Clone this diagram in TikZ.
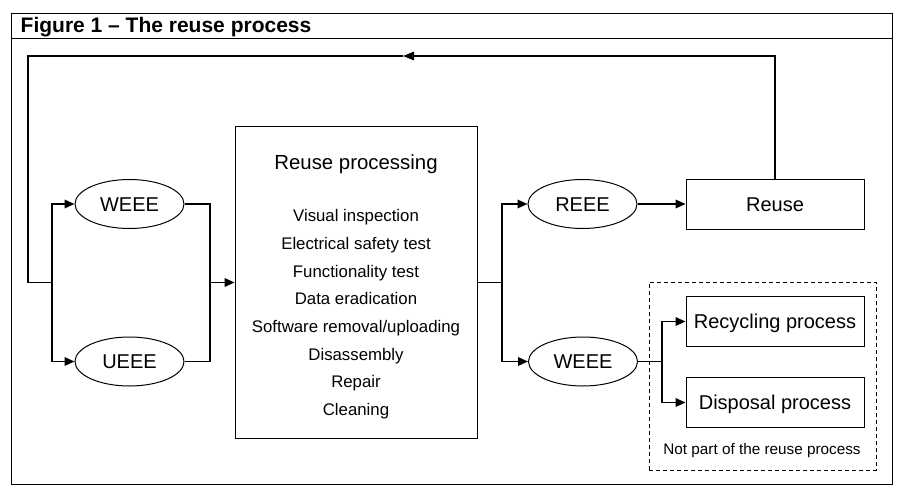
\documentclass[tikz,border=0pt]{standalone}
\usepackage{fontspec}
\setmainfont{Liberation Sans}
\usetikzlibrary{arrows.meta,shapes.geometric}
\begin{document}
\begin{tikzpicture}[x=1pt,y=-1pt,
  every node/.style={inner sep=0pt},
  lbl/.style={font=\fontsize{20}{24}\selectfont, text height=14.3pt, text depth=0pt},
  oval/.style={ellipse, draw, line width=1pt, minimum width=109pt, minimum height=49pt, lbl},
  sbox/.style={rectangle, draw, line width=0.9pt, minimum width=178pt, minimum height=50pt, lbl},
  frame/.style={line width=0.9pt},
  conn/.style={line width=1.8pt},
  arr/.style={conn, -{Triangle[length=10pt,width=8.5pt]}},
  loopline/.style={line width=1.3pt},
  looparr/.style={loopline, -{Triangle[length=11pt,width=8.5pt]}},
  item/.style={font=\fontsize{16.8}{20}\selectfont, anchor=base},
]
\useasboundingbox (0,0) rectangle (906,499);

% frame
\draw[frame] (11,13) rectangle (892,484);
\draw[frame] (11,38) -- (892,38);
\node[anchor=base west, font=\fontsize{21}{25}\selectfont\bfseries] (title) at (20.5,32.3) {Figure 1 – The reuse process};

% left ovals
\node[oval] (w1) at (129.5,204) {WEEE};
\node[oval] (u1) at (129.5,361.5) {UEEE};

% reuse processing box
\node[draw, line width=0.9pt, minimum width=242pt, minimum height=312pt] (rp) at (356,282.5) {};
\node[font=\fontsize{20.4}{24}\selectfont, anchor=base] (rpt) at (356,169.5) {Reuse processing};
\node[item] (i1) at (356,221.7) {Visual inspection};
\node[item] (i2) at (356,249.4) {Electrical safety test};
\node[item] (i3) at (356,277.1) {Functionality test};
\node[item] (i4) at (356,304.8) {Data eradication};
\node[item] (i5) at (356,332.5) {Software removal/uploading};
\node[item] (i6) at (356,360.2) {Disassembly};
\node[item] (i7) at (356,387.9) {Repair};
\node[item] (i8) at (356,415.6) {Cleaning};

% right side
\node[oval] (r1) at (582.5,204) {REEE};
\node[oval] (w2) at (583,361.5) {WEEE};
\node[sbox] (reuse) at (775,204) {Reuse};
\node[draw, dashed, dash pattern=on 4pt off 3pt, line width=0.8pt, minimum width=227pt, minimum height=188pt] (np) at (762.5,376) {};
\node[sbox] (rec) at (775,321.5) {Recycling process};
\node[sbox] (dis) at (775,402.5) {Disposal process};
\node[font=\fontsize{15.3}{18}\selectfont, anchor=base] (npt) at (762,454.3) {Not part of the reuse process};

% junctions
\coordinate (jL) at (52,282.5);
\coordinate (jLm) at (210,282.5);
\coordinate (jR) at (502,282.5);
\coordinate (jW) at (662,361.5);
\coordinate (tl) at (28,56);
\coordinate (am) at (403,56);

% connectors
\draw[arr] (jL) |- (w1.west);
\draw[arr] (jL) |- (u1.west);
\draw[conn] (w1.east) -| (jLm);
\draw[conn] (u1.east) -| (jLm);
\draw[arr] (jLm) -- (rp.west);
\draw[conn] (rp.east) -- (jR);
\draw[arr] (jR) |- (r1.west);
\draw[arr] (jR) |- (w2.west);
\draw[arr] (r1.east) -- (reuse.west);
\draw[conn] (w2.east) -- (jW);
\draw[arr] (jW) |- (rec.west);
\draw[arr] (jW) |- (dis.west);

% loop back
\draw[looparr] (reuse.north) |- (am);
\draw[loopline] (am) -- (tl) -- (tl |- jL);
\draw[conn] (tl |- jL) -- (jL);
\end{tikzpicture}
\end{document}
